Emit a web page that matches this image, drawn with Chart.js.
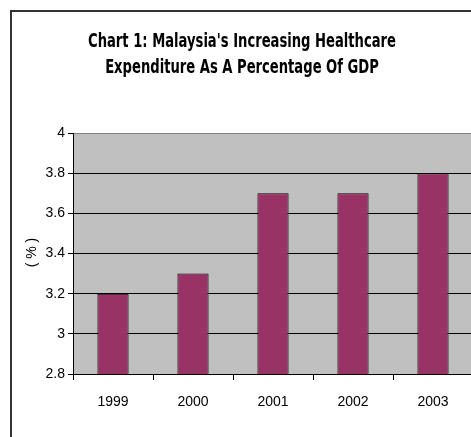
<!DOCTYPE html>
<html>
<head>
<meta charset="utf-8">
<title>Healthcare Expenditure</title>
<script src="https://cdn.jsdelivr.net/npm/chart.js@4"></script>
<style>
  html, body { margin: 0; padding: 0; background: #fff; overflow: hidden; }
  #chart { display: block; }
</style>
</head>
<body>
<canvas id="chart" width="480" height="437"></canvas>
<script>
// data
const years = ['1999', '2000', '2001', '2002', '2003'];
const gdpShare = [3.2, 3.3, 3.7, 3.7, 3.8];
const titleLines = ["Chart 1: Malaysia's Increasing Healthcare", 'Expenditure As A Percentage Of GDP'];
const yAxisTitle = '( % )';
const yMin = 2.8;
const yMax = 4;
const yStep = 0.2;

const tickFont = { family: '"Liberation Sans", Arial, sans-serif', size: 14 };

// white page, outer frame and the grey plot area
const framePlugin = {
  id: 'frame',
  beforeDraw(chart) {
    const { ctx, chartArea: a } = chart;
    ctx.save();
    ctx.fillStyle = '#fff';
    ctx.fillRect(0, 0, chart.width, chart.height);
    ctx.strokeStyle = '#333';
    ctx.lineWidth = 2;
    ctx.strokeRect(11, 11, chart.width, chart.height);
    ctx.fillStyle = '#c0c0c0';
    ctx.fillRect(a.left, a.top, a.right - a.left, a.bottom - a.top);
    ctx.restore();
  },
  afterDraw(chart) {
    const { ctx, chartArea: a } = chart;

    // condensed bold title, two lines
    ctx.save();
    ctx.font = 'bold 20px "DejaVu Sans Condensed", "DejaVu Sans", sans-serif';
    ctx.fillStyle = '#000';
    ctx.textAlign = 'center';
    ctx.textBaseline = 'alphabetic';
    titleLines.forEach((line, i) => {
      ctx.save();
      ctx.translate(242, 47 + i * 26);
      ctx.scale(0.73, 1);
      ctx.fillText(line, 0, 0);
      ctx.restore();
    });
    ctx.restore();

    // axis title sits right on top of the tick labels
    ctx.save();
    ctx.translate(a.left - 41, (a.top + a.bottom) / 2 - 1);
    ctx.rotate(-Math.PI / 2);
    ctx.font = '14px "Liberation Sans", Arial, sans-serif';
    ctx.fillStyle = '#000';
    ctx.textAlign = 'center';
    ctx.textBaseline = 'middle';
    ctx.fillText(yAxisTitle, 0, 0);
    ctx.restore();
  }
};

new Chart(document.getElementById('chart'), {
  type: 'bar',
  data: {
    labels: years,
    datasets: [{
      data: gdpShare,
      backgroundColor: '#993366',
      borderColor: '#000',
      borderWidth: 1,
      borderSkipped: false,
      categoryPercentage: 1,
      barPercentage: 0.39
    }]
  },
  options: {
    responsive: false,
    animation: false,
    layout: { padding: { left: 0, right: 7, top: 133, bottom: 13 } },
    plugins: {
      legend: { display: false },
      tooltip: { enabled: false },
      title: { display: false }
    },
    scales: {
      x: {
        afterFit(scale) { scale.height = 50; },
        grid: { offset: true, drawOnChartArea: false, color: '#000', tickLength: 6 },
        border: { color: '#000' },
        ticks: { color: '#000', padding: 14, font: tickFont }
      },
      y: {
        min: yMin,
        max: yMax,
        afterFit(scale) { scale.width = 73; },
        grid: {
          color: (c) => (c.tick && c.tick.value === yMax ? '#808080' : '#000'),
          tickColor: '#000',
          tickLength: 5
        },
        border: { color: '#000' },
        ticks: {
          stepSize: yStep,
          color: '#000',
          padding: 3,
          font: tickFont,
          callback: (v) => String(Math.round(v * 10) / 10)
        }
      }
    }
  },
  plugins: [framePlugin]
});
</script>
</body>
</html>
